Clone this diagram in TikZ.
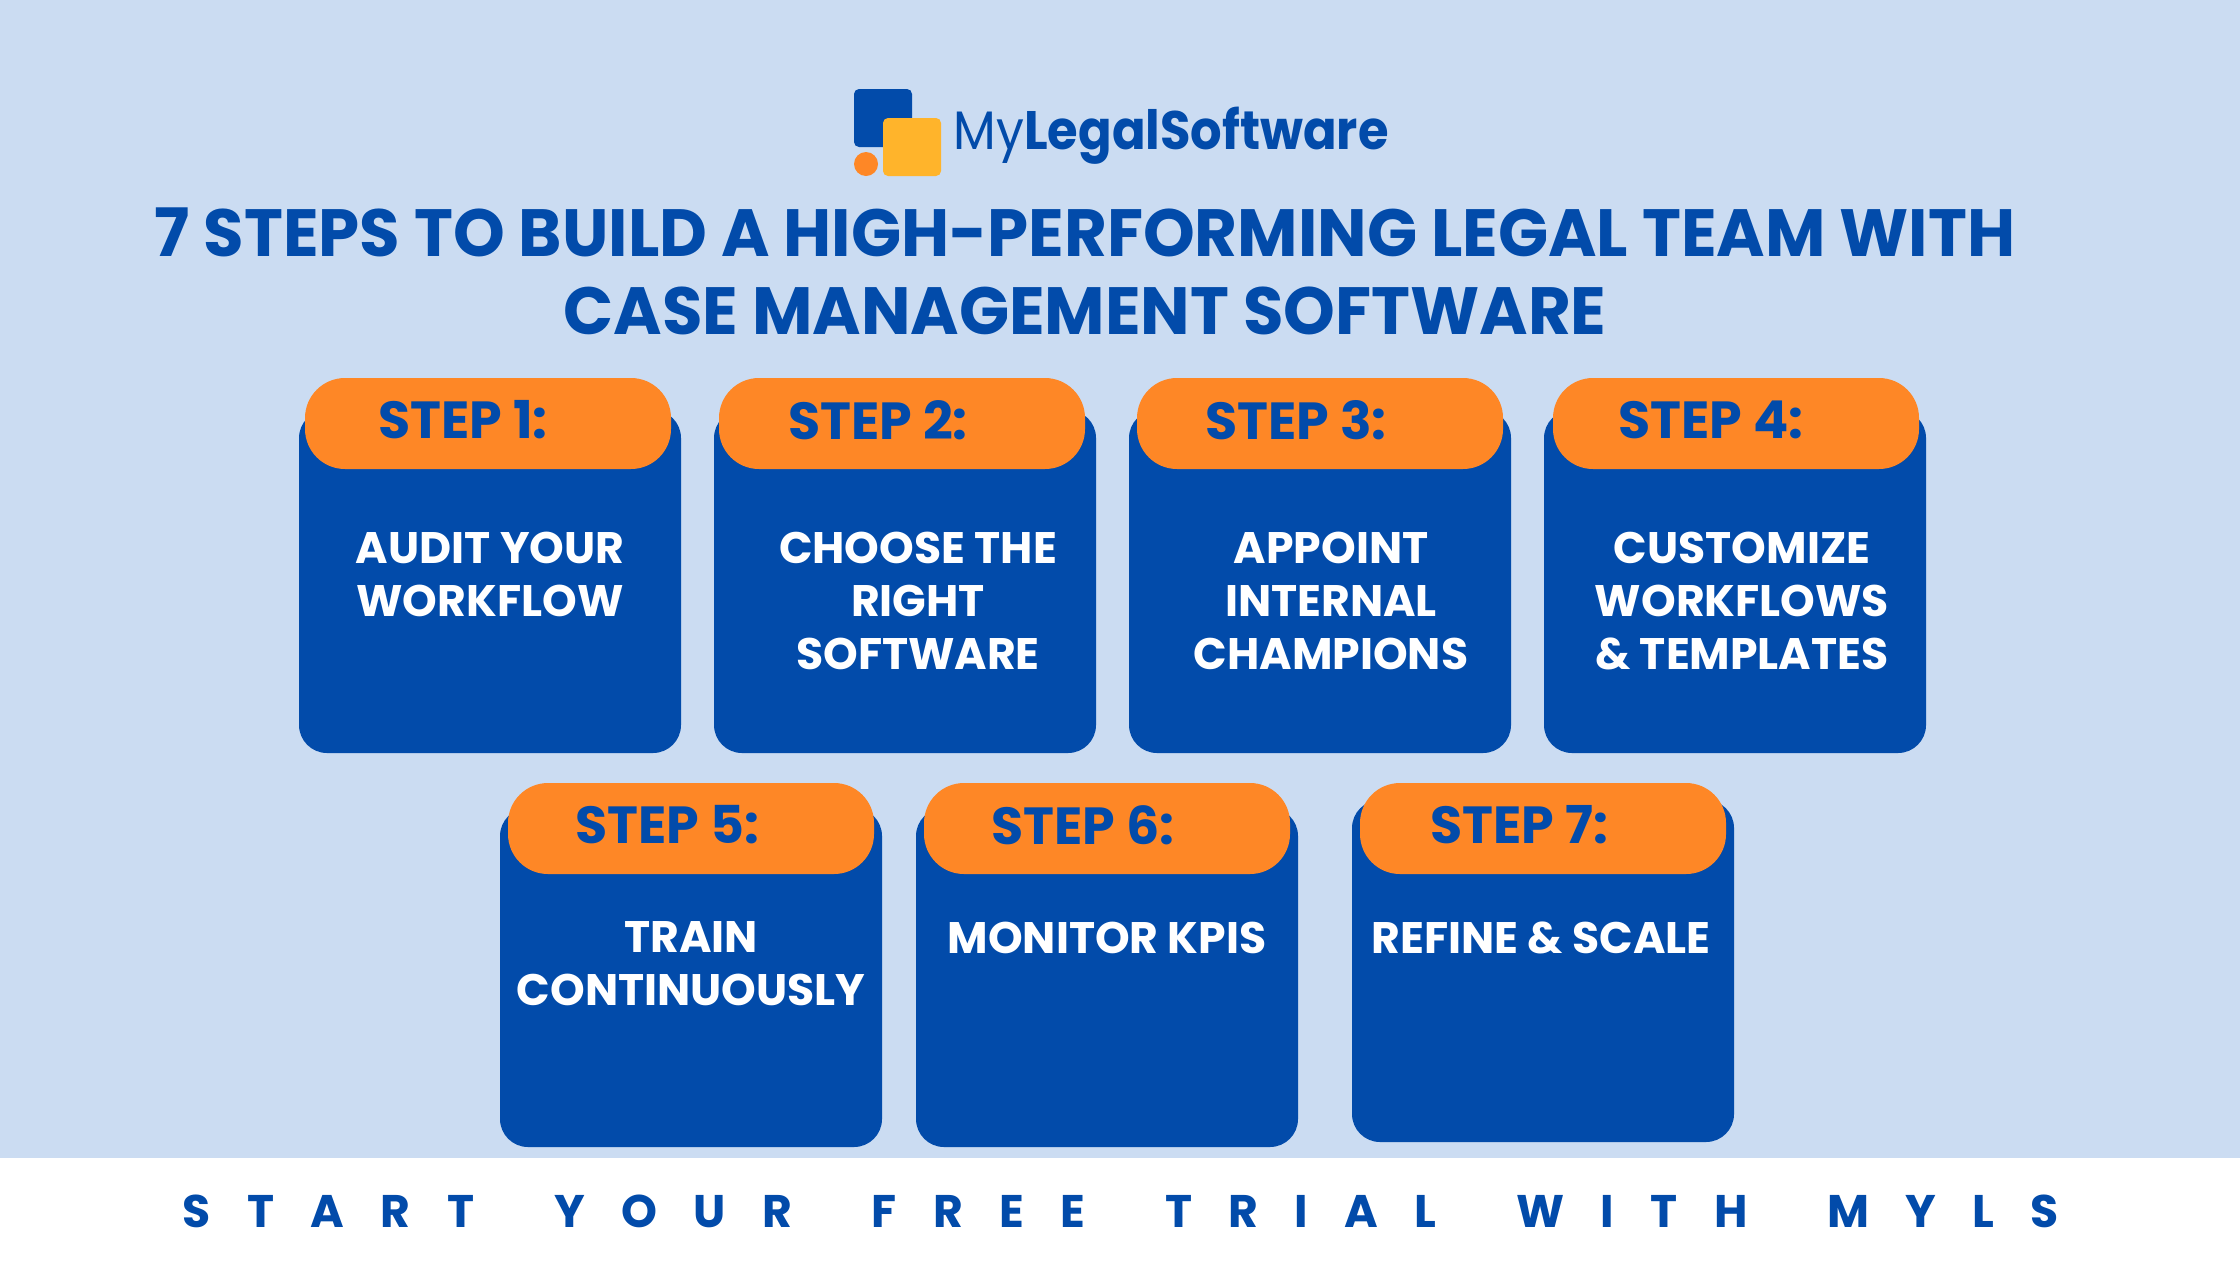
\documentclass[tikz,border=0pt]{standalone}
\usepackage{fontspec}
\setmainfont{Poppins}
\newfontfamily\logofont{Poppins}[FakeStretch=0.915]
\newfontfamily\titlefont{Poppins}[FakeStretch=0.985]
\definecolor{bgblue}{HTML}{CBDCF2}
\definecolor{navy}{HTML}{024BAA}
\definecolor{orng}{HTML}{FE8726}
\definecolor{yell}{HTML}{FFB42B}
\newcommand{\lgap}{\hspace{10.35pt}}
\newcommand{\wgap}{\hspace{22.7pt}}
\tikzset{
  x=0.01cm,y=-0.01cm,
  card/.style={fill=navy,draw=none,rounded corners=0.28cm},
  pill/.style={fill=orng,draw=none,rounded corners=0.4cm},
  steplabel/.style={text=navy,font=\fontsize{14.85pt}{18pt}\selectfont\bfseries,inner sep=0pt,anchor=center},
  cardtext/.style={text=white,font=\fontsize{12.55pt}{15.1pt}\selectfont\bfseries,inner sep=0pt,align=center,anchor=north},
  headline/.style={text=navy,font=\titlefont\fontsize{19pt}{22pt}\selectfont\bfseries,inner sep=0pt,anchor=center},
}
% #1 number, #2 card x, #3 card top, #4 card bottom, #5 pill x, #6 pill top, #7 label x, #8 text position, #9 text
\newcommand{\stepcard}[9]{%
  \fill[card] (#2,#3) rectangle (#2+382,#4);
  \fill[pill] (#5,#6) rectangle (#5+366,#6+91);
  \node[steplabel] (lab#1) at (#7,#6+42) {STEP #1:};
  \node[cardtext] (txt#1) at (#8) {#9};
}
\begin{document}
\begin{tikzpicture}
\useasboundingbox (0,0) rectangle (2240,1260);
\fill[bgblue] (0,0) rectangle (2240,1260);
\fill[white] (0,1158) rectangle (2240,1260);
% logo
\fill[navy,rounded corners=0.05cm] (854,89) rectangle (912,147);
\fill[yell,rounded corners=0.05cm] (883,118) rectangle (941,176);
\fill[orng] (866,164) circle (12);
\node[text=navy,font=\logofont\fontsize{15.4pt}{18pt}\selectfont,inner sep=0pt,anchor=base west] (logo) at (953,149) {My\textbf{LegalSoftware}};
\node[headline] (title1) at (1085,232) {7 STEPS TO BUILD A HIGH-PERFORMING LEGAL TEAM WITH};
\node[headline] (title2) at (1085,311) {CASE MANAGEMENT SOFTWARE};
\stepcard{1}{299}{410}{753}{305}{378}{463}{490,531}{AUDIT YOUR\\WORKFLOW}
\stepcard{2}{714}{410}{753}{719}{378}{878}{918,531}{CHOOSE THE\\RIGHT\\SOFTWARE}
\stepcard{3}{1129}{410}{753}{1137}{378}{1296}{1331,531}{APPOINT\\INTERNAL\\CHAMPIONS}
\stepcard{4}{1544}{410}{753}{1553}{378}{1711}{1742,531}{CUSTOMIZE\\WORKFLOWS\\\& TEMPLATES}
\stepcard{5}{500}{808}{1147}{508}{783}{667}{691,921}{TRAIN\\CONTINUOUSLY}
\stepcard{6}{916}{808}{1147}{924}{783}{1083}{1107,921}{MONITOR KPIS}
\stepcard{7}{1352}{800}{1142}{1360}{783}{1519}{1541,921}{REFINE \& SCALE}
\node[text=navy,font=\fontsize{13pt}{16pt}\selectfont\bfseries,inner sep=0pt] (cta) at (1121,1211) {S\lgap T\lgap A\lgap R\lgap T\wgap Y\lgap O\lgap U\lgap R\wgap F\lgap R\lgap E\lgap E\wgap T\lgap R\lgap I\lgap A\lgap L\wgap W\lgap I\lgap T\lgap H\wgap M\lgap Y\lgap L\lgap S};
\end{tikzpicture}
\end{document}
